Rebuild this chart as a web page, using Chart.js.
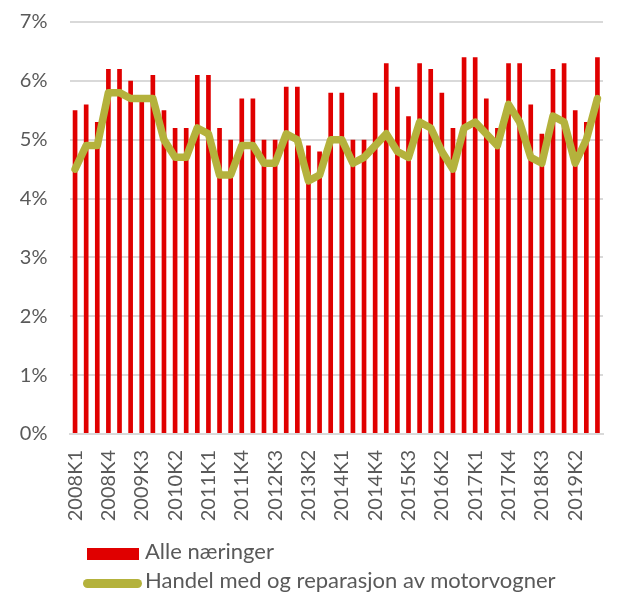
<!DOCTYPE html>
<html>
<head>
<meta charset="utf-8">
<script src="https://cdn.jsdelivr.net/npm/chart.js@4.4.1/dist/chart.umd.min.js"></script>
<style>
  html, body { margin: 0; padding: 0; background: #ffffff; }
  #wrap { position: relative; width: 635px; height: 594px; }
  #c { position: absolute; left: 0; top: 0; }
  .leg { position: absolute; font-family: Lato, "Open Sans", sans-serif; font-size: 22px; line-height: 26px; color: #595959; white-space: nowrap; }
  .sw { position: absolute; }
</style>
</head>
<body>
<div id="wrap">
  <canvas id="c" width="635" height="594"></canvas>
  <div class="sw" style="left:87px; top:548px; width:52px; height:12px; background:#E00000;"></div>
  <div class="leg" id="leg1" style="left:145px; top:538px;"></div>
  <div class="sw" style="left:83px; top:579px; width:59px; height:9px; border-radius:4.5px; background:#B4B23C;"></div>
  <div class="leg" id="leg2" style="left:145px; top:567px;"></div>
</div>
<script>
const categories = [
  "2008K1","2008K2","2008K3","2008K4","2009K1","2009K2","2009K3","2009K4",
  "2010K1","2010K2","2010K3","2010K4","2011K1","2011K2","2011K3","2011K4",
  "2012K1","2012K2","2012K3","2012K4","2013K1","2013K2","2013K3","2013K4",
  "2014K1","2014K2","2014K3","2014K4","2015K1","2015K2","2015K3","2015K4",
  "2016K1","2016K2","2016K3","2016K4","2017K1","2017K2","2017K3","2017K4",
  "2018K1","2018K2","2018K3","2018K4","2019K1","2019K2","2019K3","2019K4"
];
const seriesNames = ["Alle næringer", "Handel med og reparasjon av motorvogner"];
const alleNaeringer = [
  5.5, 5.6, 5.3, 6.2, 6.2, 6.0, 5.7, 6.1,
  5.5, 5.2, 5.2, 6.1, 6.1, 5.2, 5.0, 5.7,
  5.7, 5.0, 5.0, 5.9, 5.9, 4.9, 4.8, 5.8,
  5.8, 5.0, 5.0, 5.8, 6.3, 5.9, 5.4, 6.3,
  6.2, 5.8, 5.2, 6.4, 6.4, 5.7, 5.2, 6.3,
  6.3, 5.6, 5.1, 6.2, 6.3, 5.5, 5.3, 6.4
];
const handelMotorvogner = [
  4.5, 4.9, 4.9, 5.8, 5.8, 5.7, 5.7, 5.7,
  5.0, 4.7, 4.7, 5.2, 5.1, 4.4, 4.4, 4.9,
  4.9, 4.6, 4.6, 5.1, 5.0, 4.3, 4.4, 5.0,
  5.0, 4.6, 4.7, 4.9, 5.1, 4.8, 4.7, 5.3,
  5.2, 4.8, 4.5, 5.2, 5.3, 5.1, 4.9, 5.6,
  5.3, 4.7, 4.6, 5.4, 5.3, 4.6, 5.0, 5.7
];
const yTicks = [0, 1, 2, 3, 4, 5, 6, 7];

document.getElementById('leg1').textContent = seriesNames[0];
document.getElementById('leg2').textContent = seriesNames[1];

const textColor = '#595959';
const fontFamily = 'Lato, "Open Sans", sans-serif';

new Chart(document.getElementById('c'), {
  data: {
    labels: categories,
    datasets: [
      {
        type: 'line',
        label: seriesNames[1],
        data: handelMotorvogner,
        borderColor: '#B4B23C',
        backgroundColor: '#B4B23C',
        borderWidth: 7.5,
        pointRadius: 0,
        tension: 0,
        borderJoinStyle: 'round',
        borderCapStyle: 'round',
        order: 0
      },
      {
        type: 'bar',
        label: seriesNames[0],
        data: alleNaeringer,
        backgroundColor: '#E00000',
        borderWidth: 0,
        categoryPercentage: 1.0,
        barPercentage: 0.42,
        order: 1
      }
    ]
  },
  options: {
    responsive: false,
    animation: false,
    devicePixelRatio: 1,
    layout: { padding: { top: 22, right: 32, bottom: 0, left: 0 } },
    plugins: { legend: { display: false }, tooltip: { enabled: false } },
    scales: {
      x: {
        grid: { display: false },
        border: { display: true, color: '#D9D9D9', width: 2 },
        ticks: {
          autoSkip: false,
          minRotation: 90,
          maxRotation: 90,
          color: textColor,
          font: { family: fontFamily, size: 20 },
          padding: 8,
          callback: function(v, i) { return i % 3 === 0 ? categories[i] : ''; }
        },
        afterFit: function(s) { s.height = 160; s.paddingLeft = 0; s.paddingRight = 0; s.paddingTop = 0; s.paddingBottom = 0; }
      },
      y: {
        min: 0,
        max: 7,
        afterBuildTicks: function(s) { s.ticks = yTicks.map(v => ({ value: v })); },
        grid: { color: '#D9D9D9', lineWidth: 2, drawTicks: false },
        border: { display: false },
        ticks: {
          color: textColor,
          font: { family: fontFamily, size: 20 },
          padding: 22,
          callback: function(v) { return v + '%'; }
        },
        afterFit: function(s) { s.width = 69.5; s.paddingTop = 0; s.paddingBottom = 0; }
      }
    }
  }
});
</script>
</body>
</html>
